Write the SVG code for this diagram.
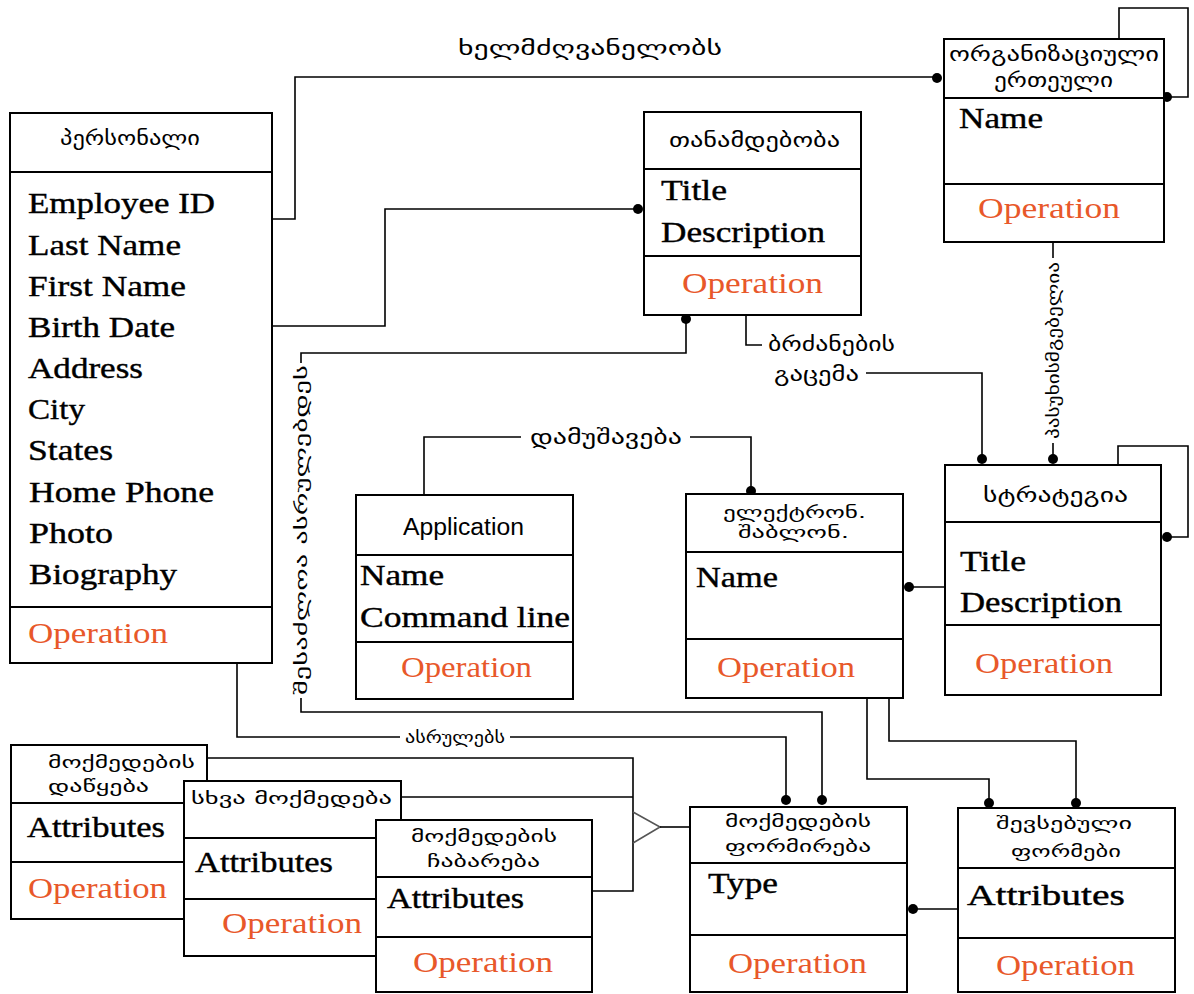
<svg xmlns="http://www.w3.org/2000/svg" width="1194" height="994" viewBox="0 0 1194 994">
<style>
.box{fill:#fff;stroke:#000;stroke-width:2}
.dv{stroke:#000;stroke-width:2}
.conn{fill:none;stroke:#000;stroke-width:1.6}
.gen{fill:none;stroke:#555;stroke-width:1.6}
.dot{fill:#000}
.a{font-family:"Liberation Serif","Times New Roman",serif;font-size:30px;fill:#000;stroke:#000;stroke-width:0.4}
.op{font-family:"Liberation Serif","Times New Roman",serif;font-size:30px;fill:#E8582A}
.g{font-family:"DejaVu Sans","Noto Sans",sans-serif;font-size:20px;fill:#000}
.gs{font-family:"DejaVu Sans","Noto Sans",sans-serif;font-size:16px;fill:#000}
.s{font-family:"Liberation Sans",Arial,sans-serif;font-size:23px;fill:#000}
</style>
<rect width="1194" height="994" fill="#fff"/>

<g id="connectors">
  <path class="conn" d="M272,219 H295 V77 H937"/>
  <path class="conn" d="M272,326 H385 V209 H638"/>
  <path class="conn" d="M686,319 V353 H301 V363"/>
  <path class="conn" d="M301,698 V712 H822 V800"/>
  <path class="conn" d="M237,663 V737 H400"/>
  <path class="conn" d="M510,737 H786 V800"/>
  <path class="conn" d="M746,315 V345 H762"/>
  <path class="conn" d="M866,373 H982 V459"/>
  <path class="conn" d="M1053,242 V258"/>
  <path class="conn" d="M1053,443 V459"/>
  <path class="conn" d="M424,495 V437 H521"/>
  <path class="conn" d="M690,437 H751 V490"/>
  <path class="conn" d="M908,587 H945"/>
  <path class="conn" d="M1118,465 V446 H1188 V537 H1167"/>
  <path class="conn" d="M1119,39 V8 H1188 V97 H1167"/>
  <path class="conn" d="M867,698 V779 H989 V803"/>
  <path class="conn" d="M889,698 V741 H1076 V803"/>
  <path class="conn" d="M913,909 H958"/>
  <path class="conn" d="M207,758 H633 V891 H592"/>
  <path class="conn" d="M401,797 H633"/>
  <path class="gen" d="M633,812 L660,827 L633,843"/>
  <path class="conn" d="M660,827 H690"/>
  <circle class="dot" cx="937" cy="78" r="5"/>
  <circle class="dot" cx="1167" cy="97" r="5"/>
  <circle class="dot" cx="638" cy="209" r="5"/>
  <circle class="dot" cx="686" cy="319" r="5"/>
  <circle class="dot" cx="982" cy="459" r="5"/>
  <circle class="dot" cx="1053" cy="459" r="5"/>
  <circle class="dot" cx="1167" cy="537" r="5"/>
  <circle class="dot" cx="909" cy="587" r="5"/>
  <circle class="dot" cx="751" cy="491" r="5"/>
  <circle class="dot" cx="786" cy="800" r="5"/>
  <circle class="dot" cx="822" cy="800" r="5"/>
  <circle class="dot" cx="989" cy="803" r="5"/>
  <circle class="dot" cx="1076" cy="803" r="5"/>
  <circle class="dot" cx="913" cy="909" r="5"/>
  <text class="g" x="458" y="55" textLength="264" lengthAdjust="spacingAndGlyphs">ხელმძღვანელობს</text>
  <text class="g" x="768" y="351" textLength="127" lengthAdjust="spacingAndGlyphs">ბრძანების</text>
  <text class="g" x="774" y="381" textLength="85" lengthAdjust="spacingAndGlyphs">გაცემა</text>
  <text class="g" x="530" y="444" textLength="152" lengthAdjust="spacingAndGlyphs">დამუშავება</text>
  <text class="gs" x="405" y="743" textLength="100" lengthAdjust="spacingAndGlyphs">ასრულებს</text>
  <text class="gs" transform="translate(301,695) rotate(-90)" x="0" y="6" textLength="330" lengthAdjust="spacingAndGlyphs">შესაძლოა ასრულებდეს</text>
  <text class="gs" transform="translate(1053,439) rotate(-90)" x="0" y="6" textLength="177" lengthAdjust="spacingAndGlyphs">პასუხისმგებელია</text>
</g>

<g id="personnel">
  <rect class="box" x="10" y="113" width="262" height="550"/>
  <line class="dv" x1="10" y1="172" x2="272" y2="172"/>
  <line class="dv" x1="10" y1="607" x2="272" y2="607"/>
  <text class="g" x="60" y="145" textLength="140" lengthAdjust="spacingAndGlyphs">პერსონალი</text>
  <text class="a" x="28" y="213" textLength="187" lengthAdjust="spacingAndGlyphs">Employee ID</text>
  <text class="a" x="28" y="255" textLength="153" lengthAdjust="spacingAndGlyphs">Last Name</text>
  <text class="a" x="28" y="296" textLength="158" lengthAdjust="spacingAndGlyphs">First Name</text>
  <text class="a" x="28" y="337" textLength="147" lengthAdjust="spacingAndGlyphs">Birth Date</text>
  <text class="a" x="28" y="378" textLength="115" lengthAdjust="spacingAndGlyphs">Address</text>
  <text class="a" x="28" y="419" textLength="57" lengthAdjust="spacingAndGlyphs">City</text>
  <text class="a" x="28" y="460" textLength="85" lengthAdjust="spacingAndGlyphs">States</text>
  <text class="a" x="29" y="502" textLength="185" lengthAdjust="spacingAndGlyphs">Home Phone</text>
  <text class="a" x="29" y="543" textLength="84" lengthAdjust="spacingAndGlyphs">Photo</text>
  <text class="a" x="29" y="584" textLength="148" lengthAdjust="spacingAndGlyphs">Biography</text>
  <text class="op" x="28" y="643" textLength="140" lengthAdjust="spacingAndGlyphs">Operation</text>
</g>

<g id="position">
  <rect class="box" x="644" y="112" width="217" height="203"/>
  <line class="dv" x1="644" y1="169" x2="861" y2="169"/>
  <line class="dv" x1="644" y1="256" x2="861" y2="256"/>
  <text class="g" x="669" y="147" textLength="171" lengthAdjust="spacingAndGlyphs">თანამდებობა</text>
  <text class="a" x="661" y="200" textLength="66" lengthAdjust="spacingAndGlyphs">Title</text>
  <text class="a" x="661" y="242" textLength="164" lengthAdjust="spacingAndGlyphs">Description</text>
  <text class="op" x="682" y="293" textLength="141" lengthAdjust="spacingAndGlyphs">Operation</text>
</g>

<g id="org-unit">
  <rect class="box" x="944" y="39" width="220" height="203"/>
  <line class="dv" x1="944" y1="98" x2="1164" y2="98"/>
  <line class="dv" x1="944" y1="184" x2="1164" y2="184"/>
  <text class="g" x="949" y="61" textLength="210" lengthAdjust="spacingAndGlyphs">ორგანიზაციული</text>
  <text class="g" x="994" y="87" textLength="119" lengthAdjust="spacingAndGlyphs">ერთეული</text>
  <text class="a" x="959" y="128" textLength="84" lengthAdjust="spacingAndGlyphs">Name</text>
  <text class="op" x="978" y="218" textLength="142" lengthAdjust="spacingAndGlyphs">Operation</text>
</g>

<g id="application">
  <rect class="box" x="356" y="495" width="217" height="204"/>
  <line class="dv" x1="356" y1="555" x2="573" y2="555"/>
  <line class="dv" x1="356" y1="642" x2="573" y2="642"/>
  <text class="s" x="403" y="535" textLength="121" lengthAdjust="spacingAndGlyphs">Application</text>
  <text class="a" x="360" y="585" textLength="84" lengthAdjust="spacingAndGlyphs">Name</text>
  <text class="a" x="360" y="627" textLength="210" lengthAdjust="spacingAndGlyphs">Command line</text>
  <text class="op" x="401" y="677" textLength="131" lengthAdjust="spacingAndGlyphs">Operation</text>
</g>

<g id="e-template">
  <rect class="box" x="686" y="494" width="217" height="204"/>
  <line class="dv" x1="686" y1="552" x2="903" y2="552"/>
  <line class="dv" x1="686" y1="639" x2="903" y2="639"/>
  <text class="gs" x="723" y="518" textLength="143" lengthAdjust="spacingAndGlyphs">ელექტრონ.</text>
  <text class="gs" x="738" y="538" textLength="111" lengthAdjust="spacingAndGlyphs">შაბლონ.</text>
  <text class="a" x="696" y="587" textLength="82" lengthAdjust="spacingAndGlyphs">Name</text>
  <text class="op" x="717" y="677" textLength="138" lengthAdjust="spacingAndGlyphs">Operation</text>
</g>

<g id="strategy">
  <rect class="box" x="945" y="465" width="216" height="230"/>
  <line class="dv" x1="945" y1="522" x2="1161" y2="522"/>
  <line class="dv" x1="945" y1="625" x2="1161" y2="625"/>
  <text class="g" x="983" y="502" textLength="145" lengthAdjust="spacingAndGlyphs">სტრატეგია</text>
  <text class="a" x="960" y="571" textLength="66" lengthAdjust="spacingAndGlyphs">Title</text>
  <text class="a" x="960" y="612" textLength="162" lengthAdjust="spacingAndGlyphs">Description</text>
  <text class="op" x="975" y="673" textLength="138" lengthAdjust="spacingAndGlyphs">Operation</text>
</g>

<g id="action-start">
  <rect class="box" x="11" y="745" width="196" height="174"/>
  <line class="dv" x1="11" y1="803" x2="207" y2="803"/>
  <line class="dv" x1="11" y1="862" x2="207" y2="862"/>
  <text class="gs" x="48" y="768" textLength="147" lengthAdjust="spacingAndGlyphs">მოქმედების</text>
  <text class="gs" x="48" y="792" textLength="101" lengthAdjust="spacingAndGlyphs">დაწყება</text>
  <text class="a" x="27" y="837" textLength="138" lengthAdjust="spacingAndGlyphs">Attributes</text>
  <text class="op" x="28" y="898" textLength="139" lengthAdjust="spacingAndGlyphs">Operation</text>
</g>

<g id="other-action">
  <rect class="box" x="184" y="781" width="217" height="175"/>
  <line class="dv" x1="184" y1="838" x2="401" y2="838"/>
  <line class="dv" x1="184" y1="899" x2="401" y2="899"/>
  <text class="gs" x="191" y="804" textLength="201" lengthAdjust="spacingAndGlyphs">სხვა  მოქმედება</text>
  <text class="a" x="195" y="872" textLength="138" lengthAdjust="spacingAndGlyphs">Attributes</text>
  <text class="op" x="222" y="933" textLength="140" lengthAdjust="spacingAndGlyphs">Operation</text>
</g>

<g id="action-handover">
  <rect class="box" x="376" y="820" width="216" height="172"/>
  <line class="dv" x1="376" y1="877" x2="592" y2="877"/>
  <line class="dv" x1="376" y1="937" x2="592" y2="937"/>
  <text class="gs" x="411" y="842" textLength="146" lengthAdjust="spacingAndGlyphs">მოქმედების</text>
  <text class="gs" x="427" y="867" textLength="113" lengthAdjust="spacingAndGlyphs">ჩაბარება</text>
  <text class="a" x="387" y="908" textLength="137" lengthAdjust="spacingAndGlyphs">Attributes</text>
  <text class="op" x="413" y="972" textLength="140" lengthAdjust="spacingAndGlyphs">Operation</text>
</g>

<g id="action-formation">
  <rect class="box" x="690" y="807" width="217" height="185"/>
  <line class="dv" x1="690" y1="863" x2="907" y2="863"/>
  <line class="dv" x1="690" y1="935" x2="907" y2="935"/>
  <text class="gs" x="725" y="827" textLength="146" lengthAdjust="spacingAndGlyphs">მოქმედების</text>
  <text class="gs" x="725" y="852" textLength="146" lengthAdjust="spacingAndGlyphs">ფორმირება</text>
  <text class="a" x="708" y="893" textLength="70" lengthAdjust="spacingAndGlyphs">Type</text>
  <text class="op" x="728" y="973" textLength="139" lengthAdjust="spacingAndGlyphs">Operation</text>
</g>

<g id="filled-forms">
  <rect class="box" x="958" y="808" width="217" height="184"/>
  <line class="dv" x1="958" y1="868" x2="1175" y2="868"/>
  <line class="dv" x1="958" y1="938" x2="1175" y2="938"/>
  <text class="gs" x="996" y="829" textLength="136" lengthAdjust="spacingAndGlyphs">შევსებული</text>
  <text class="gs" x="1011" y="857" textLength="110" lengthAdjust="spacingAndGlyphs">ფორმები</text>
  <text class="a" x="967" y="905" textLength="158" lengthAdjust="spacingAndGlyphs">Attributes</text>
  <text class="op" x="996" y="975" textLength="139" lengthAdjust="spacingAndGlyphs">Operation</text>
</g>
</svg>
